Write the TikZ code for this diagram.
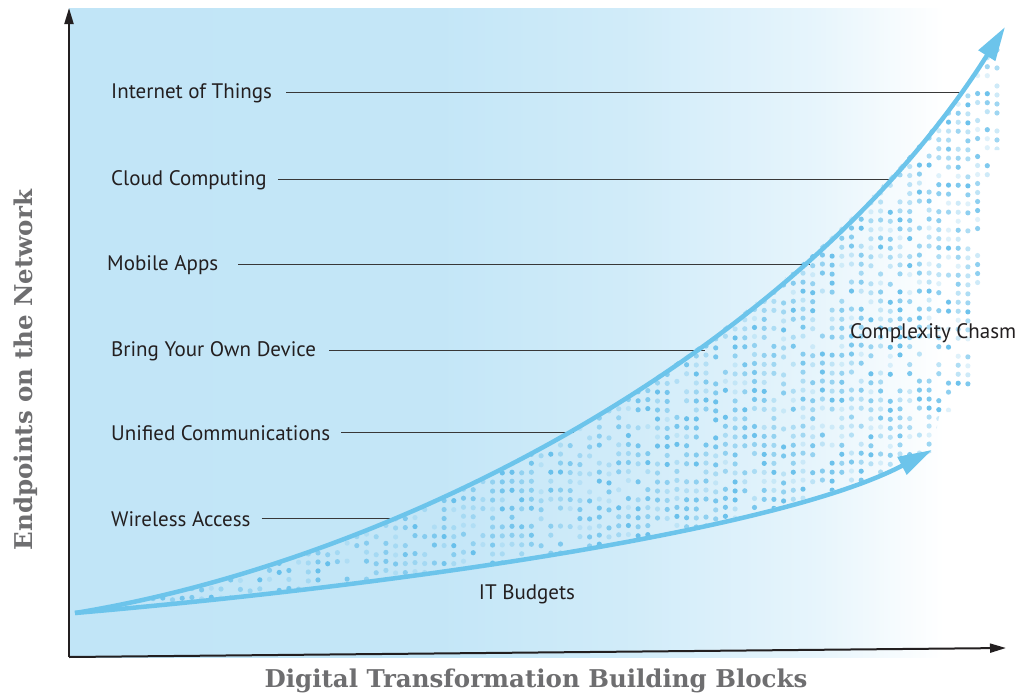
\documentclass[tikz,border=0pt]{standalone}
\usepackage{fontspec}
\setmainfont{PT Sans}
\newfontfamily\slabfont{DejaVu Serif}
\usetikzlibrary{arrows.meta}

\definecolor{bgblue}{RGB}{193,229,247}
\definecolor{curveblue}{RGB}{108,196,235}
\definecolor{dotblue}{RGB}{95,188,234}
\definecolor{axisgrey}{RGB}{110,110,112}
\definecolor{textdark}{RGB}{35,31,32}

\pgfdeclarehorizontalshading{bgfade}{100bp}{color(0bp)=(bgblue); color(25bp)=(bgblue);
  color(45bp)=(bgblue!95!white); color(55bp)=(bgblue!75!white); color(65bp)=(bgblue!40!white);
  color(72bp)=(white); color(100bp)=(white)}

\tikzset{
  tag/.style={anchor=base west, inner sep=0pt, text=textdark, font=\fontsize{21}{24}\selectfont},
  leader/.style={draw=black!78, line width=1.3pt},
  growth/.style={draw=curveblue, line width=4.5pt, -{Triangle[length=34pt,width=19pt]}},
  axis/.style={draw=textdark, line width=2pt, -{Triangle[length=16pt,width=9pt]}},
  axistitle/.style={text=axisgrey, font=\slabfont\bfseries\fontsize{24.5}{28}\selectfont}
}

\begin{document}
\begin{tikzpicture}[x=1pt,y=-1pt]
\useasboundingbox (0,0) rectangle (1034,696);

% background fade
\shade[shading=bgfade] (69,8) rectangle (1000,657);

% dots of the chasm
\begin{scope}
\clip (75,613) .. controls (400,560) and (800,350) .. (1003,30) -- (1003,150) -- (992,150)
  -- (992,198) -- (983,198) -- (983,288) -- (973,288) -- (973,398) -- (953,398)
  -- (953,412) -- (940,412) -- (932,452) .. controls (780,530) and (400,585) .. (75,613) -- cycle;
\pgfmathsetseed{11}
\foreach \i in {0,...,88} {
  \pgfmathsetmacro\cx{997-9.7*\i}
  \pgfmathsetmacro\dy{3*rnd}
  \foreach \j in {0,...,65} {
    \pgfmathtruncatemacro\lvl{rnd*10}
    \ifnum\lvl>1
      \fill[dotblue, opacity=0.\lvl] (\cx,30+9*\j+\dy) circle (2.6);
    \fi
  }
}
\end{scope}

% building blocks
\node[tag] (iot) at (111,98) {Internet of Things};
\node[tag] (cloud) at (111,185) {Cloud Computing};
\node[tag] (mobile) at (107,270) {Mobile Apps};
\node[tag] (byod) at (111,356) {Bring Your Own Device};
\node[tag] (uc) at (111,440) {Unified Communications};
\node[tag] (wifi) at (111,526) {Wireless Access};

\coordinate (iotpt) at (960,0);
\coordinate (cloudpt) at (890,0);
\coordinate (mobilept) at (810,0);
\coordinate (byodpt) at (705,0);
\coordinate (ucpt) at (574,0);
\coordinate (wifipt) at (400,0);

\draw[leader] ([xshift=14pt]iot.east) -- (iot.east -| iotpt);
\draw[leader] ([xshift=11pt]cloud.east) -- (cloud.east -| cloudpt);
\draw[leader] ([xshift=20pt]mobile.east) -- (mobile.east -| mobilept);
\draw[leader] ([xshift=13pt]byod.east) -- (byod.east -| byodpt);
\draw[leader] ([xshift=11pt]uc.east) -- (uc.east -| ucpt);
\draw[leader] ([xshift=11pt]wifi.east) -- (wifi.east -| wifipt);

% the two curves
\coordinate (origin) at (75,613);
\coordinate (endpoints) at (1005,27);
\coordinate (budgets) at (932,450);
\draw[growth] (origin) .. controls (400,560) and (800,350) .. (endpoints);
\draw[growth] (origin) .. controls (400,585) and (780,530) .. (budgets);

\node[tag] (chasm) at (850,338) {Complexity Chasm};
\node[tag, anchor=base] (it) at (527,599) {IT Budgets};

% axes
\coordinate (corner) at (69,657);
\coordinate (ytip) at (69,8);
\coordinate (xtip) at (1006,648);
\draw[axis] (corner) -- (ytip);
\draw[axis] (corner) -- (xtip);

\node[axistitle] (xtitle) at (536,681) {Digital Transformation Building Blocks};
\node[axistitle, rotate=90] (ytitle) at (26,370) {Endpoints on the Network};
\end{tikzpicture}
\end{document}
